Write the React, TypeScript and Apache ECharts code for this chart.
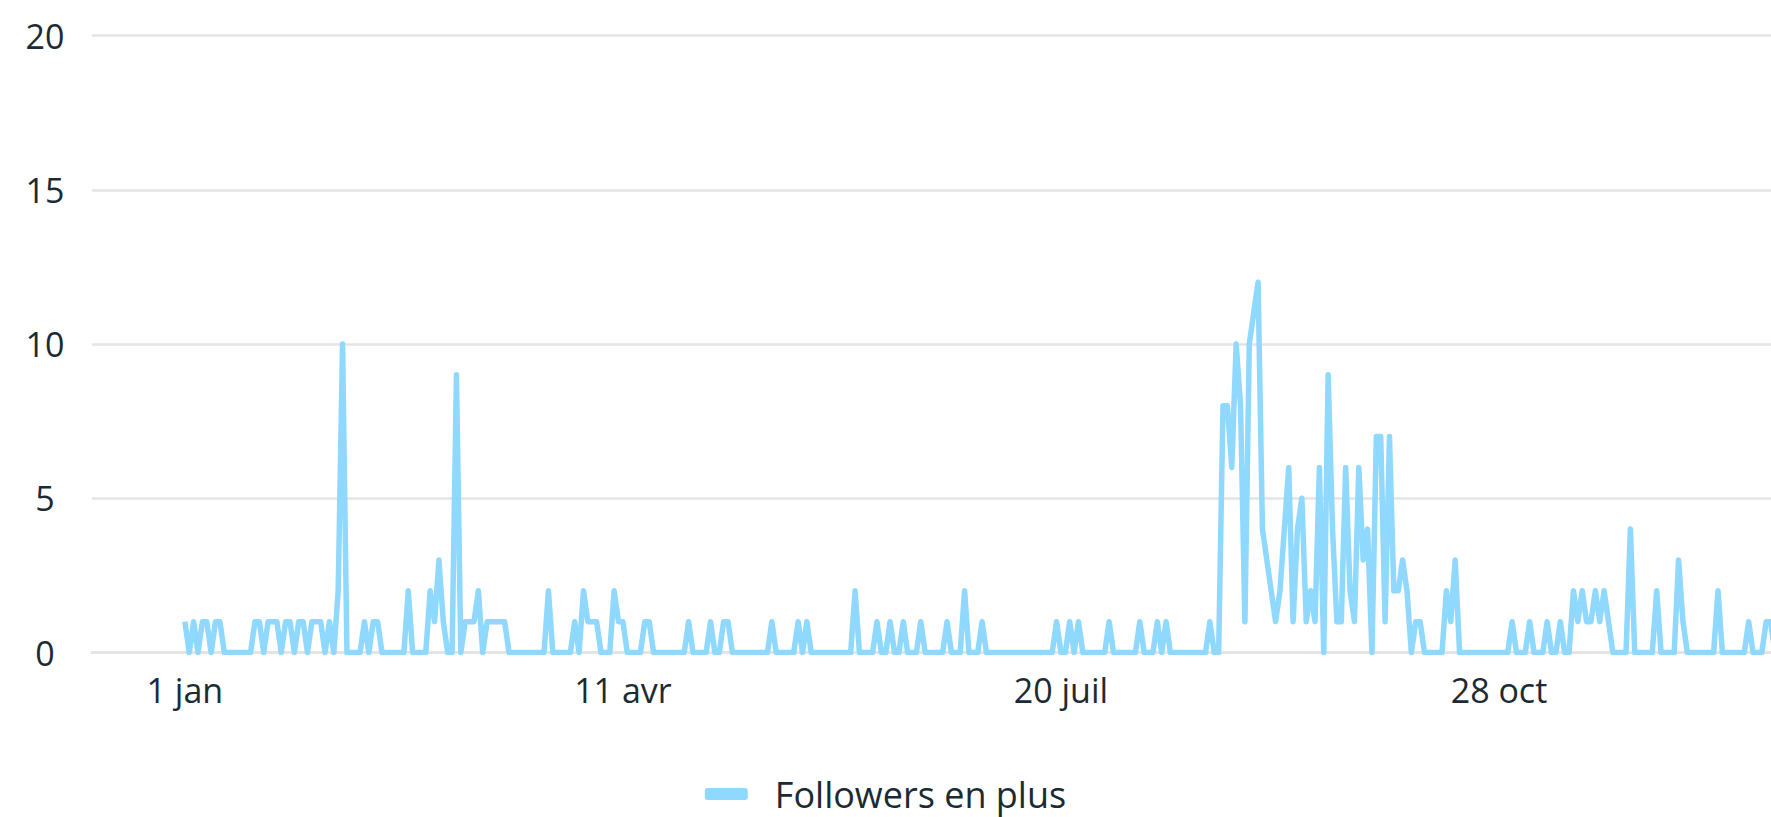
import React, { useEffect, useRef } from "react";
import * as echarts from "echarts";

// Daily "Followers en plus" values, day 0 = 1 jan (non-leap year)
const followers: number[] = [
  1, 0, 1, 0, 1, 1, 0, 1, 1, 0,
  0, 0, 0, 0, 0, 0, 1, 1, 0, 1,
  1, 1, 0, 1, 1, 0, 1, 1, 0, 1,
  1, 1, 0, 1, 0, 2, 10, 0, 0, 0,
  0, 1, 0, 1, 1, 0, 0, 0, 0, 0,
  0, 2, 0, 0, 0, 0, 2, 1, 3, 1,
  0, 0, 9, 0, 1, 1, 1, 2, 0, 1,
  1, 1, 1, 1, 0, 0, 0, 0, 0, 0,
  0, 0, 0, 2, 0, 0, 0, 0, 0, 1,
  0, 2, 1, 1, 1, 0, 0, 0, 2, 1,
  1, 0, 0, 0, 0, 1, 1, 0, 0, 0,
  0, 0, 0, 0, 0, 1, 0, 0, 0, 0,
  1, 0, 0, 1, 1, 0, 0, 0, 0, 0,
  0, 0, 0, 0, 1, 0, 0, 0, 0, 0,
  1, 0, 1, 0, 0, 0, 0, 0, 0, 0,
  0, 0, 0, 2, 0, 0, 0, 0, 1, 0,
  0, 1, 0, 0, 1, 0, 0, 0, 1, 0,
  0, 0, 0, 0, 1, 0, 0, 0, 2, 0,
  0, 0, 1, 0, 0, 0, 0, 0, 0, 0,
  0, 0, 0, 0, 0, 0, 0, 0, 0, 1,
  0, 0, 1, 0, 1, 0, 0, 0, 0, 0,
  0, 1, 0, 0, 0, 0, 0, 0, 1, 0,
  0, 0, 1, 0, 1, 0, 0, 0, 0, 0,
  0, 0, 0, 0, 1, 0, 0, 8, 8, 6,
  10, 8, 1, 10, 11, 12, 4, 3, 2, 1,
  2, 4, 6, 1, 4, 5, 1, 2, 1, 6,
  0, 9, 4, 1, 1, 6, 2, 1, 6, 3,
  4, 0, 7, 7, 1, 7, 2, 2, 3, 2,
  0, 1, 1, 0, 0, 0, 0, 0, 2, 1,
  3, 0, 0, 0, 0, 0, 0, 0, 0, 0,
  0, 0, 0, 1, 0, 0, 0, 1, 0, 0,
  0, 1, 0, 0, 1, 0, 0, 2, 1, 2,
  1, 1, 2, 1, 2, 1, 0, 0, 0, 0,
  4, 0, 0, 0, 0, 0, 2, 0, 0, 0,
  0, 3, 1, 0, 0, 0, 0, 0, 0, 0,
  2, 0, 0, 0, 0, 0, 0, 1, 0, 0,
  0, 1, 1, 0, 0,
];

const xTickDays: number[] = [0, 100, 200, 300];
const xTickLabels: string[] = ["1 jan", "11 avr", "20 juil", "28 oct"];
const seriesName = "Followers en plus";

const FONT = "'Open Sans', 'Noto Sans', sans-serif";
const TEXT = "#1c2b33";
const LINE = "#8fd8ff";
const GRID = "#e4e4e4";

export default function App() {
  const ref = useRef<HTMLDivElement>(null);

  useEffect(() => {
    if (!ref.current) return;
    const chart = echarts.init(ref.current, undefined, { renderer: "svg" });
    const data = followers.map((v, i) => [i, v]);
    chart.setOption({
      animation: false,
      grid: { left: 92, right: 0, top: 35.5, bottom: 164.5 },
      xAxis: {
        type: "value",
        min: -21.2,
        max: 362.1,
        axisLine: { show: true, lineStyle: { color: GRID, width: 3 } },
        axisTick: { show: false },
        splitLine: { show: false },
        axisLabel: {
          customValues: xTickDays,
          formatter: (v: number) => {
            const k = xTickDays.indexOf(Math.round(v));
            return k >= 0 ? xTickLabels[k] : "";
          },
          color: TEXT,
          fontSize: 34,
          fontFamily: FONT,
          margin: 20,
        },
      },
      yAxis: {
        type: "value",
        min: 0,
        max: 20,
        interval: 5,
        axisLine: { show: false },
        axisTick: { show: false },
        splitLine: { lineStyle: { color: GRID, width: 2.5 } },
        axisLabel: {
          color: TEXT,
          fontSize: 34,
          fontFamily: FONT,
          align: "center",
          margin: 47,
        },
      },
      legend: {
        data: [seriesName],
        left: "center",
        top: 775,
        icon: "roundRect",
        itemWidth: 43,
        itemHeight: 12,
        itemGap: 20,
        padding: 0,
        textStyle: { color: TEXT, fontSize: 36, lineHeight: 38, fontFamily: FONT, padding: [0, 0, 0, 22] },
      },
      series: [
        {
          type: "line",
          name: seriesName,
          data,
          symbol: "none",
          showSymbol: false,
          lineStyle: { color: LINE, width: 5.5, join: "round" },
          itemStyle: { color: LINE },
        },
      ],
    });
    return () => chart.dispose();
  }, []);

  return (
    <div
      ref={ref}
      style={{ position: "fixed", left: 0, top: 0, width: 1771, height: 817, background: "#fff" }}
    />
  );
}
